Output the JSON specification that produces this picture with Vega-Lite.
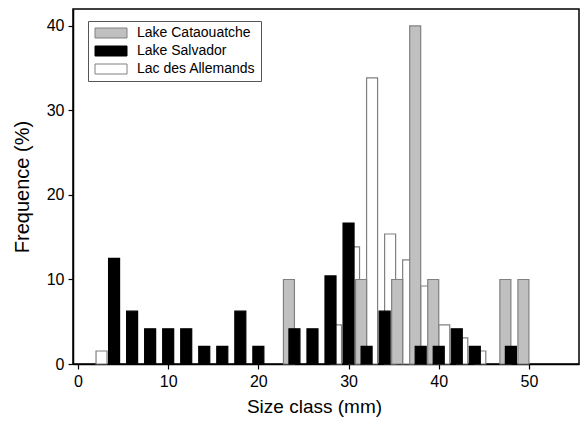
{
  "$schema": "https://vega.github.io/schema/vega-lite/v6.json",
  "width": 506,
  "height": 355,
  "autosize": "none",
  "padding": {"left": 73, "top": 9, "right": 4, "bottom": 58},
  "background": "white",
  "config": {
    "font": "Liberation Sans",
    "view": {"stroke": "black", "strokeWidth": 1.5},
    "axis": {
      "grid": false,
      "domainColor": "black",
      "domainWidth": 1.5,
      "tickColor": "black",
      "tickSize": 5,
      "tickWidth": 1.2,
      "labelFont": "Liberation Sans",
      "labelFontSize": 16,
      "labelColor": "black",
      "titleFont": "Liberation Sans",
      "titleFontWeight": "normal",
      "titleColor": "black"
    }
  },
  "datasets": {
    "bars": [
      {"lake": "Lac des Allemands", "size_class": 2, "freq": 1.54},
      {"lake": "Lac des Allemands", "size_class": 28, "freq": 4.62},
      {"lake": "Lac des Allemands", "size_class": 30, "freq": 13.85},
      {"lake": "Lac des Allemands", "size_class": 32, "freq": 33.85},
      {"lake": "Lac des Allemands", "size_class": 34, "freq": 15.38},
      {"lake": "Lac des Allemands", "size_class": 36, "freq": 12.31},
      {"lake": "Lac des Allemands", "size_class": 38, "freq": 9.23},
      {"lake": "Lac des Allemands", "size_class": 40, "freq": 4.62},
      {"lake": "Lac des Allemands", "size_class": 42, "freq": 3.08},
      {"lake": "Lac des Allemands", "size_class": 44, "freq": 1.54},
      {"lake": "Lake Cataouatche", "size_class": 24, "freq": 10},
      {"lake": "Lake Cataouatche", "size_class": 32, "freq": 10},
      {"lake": "Lake Cataouatche", "size_class": 36, "freq": 10},
      {"lake": "Lake Cataouatche", "size_class": 38, "freq": 40},
      {"lake": "Lake Cataouatche", "size_class": 40, "freq": 10},
      {"lake": "Lake Cataouatche", "size_class": 48, "freq": 10},
      {"lake": "Lake Cataouatche", "size_class": 50, "freq": 10},
      {"lake": "Lake Salvador", "size_class": 4, "freq": 12.5},
      {"lake": "Lake Salvador", "size_class": 6, "freq": 6.25},
      {"lake": "Lake Salvador", "size_class": 8, "freq": 4.17},
      {"lake": "Lake Salvador", "size_class": 10, "freq": 4.17},
      {"lake": "Lake Salvador", "size_class": 12, "freq": 4.17},
      {"lake": "Lake Salvador", "size_class": 14, "freq": 2.08},
      {"lake": "Lake Salvador", "size_class": 16, "freq": 2.08},
      {"lake": "Lake Salvador", "size_class": 18, "freq": 6.25},
      {"lake": "Lake Salvador", "size_class": 20, "freq": 2.08},
      {"lake": "Lake Salvador", "size_class": 24, "freq": 4.17},
      {"lake": "Lake Salvador", "size_class": 26, "freq": 4.17},
      {"lake": "Lake Salvador", "size_class": 28, "freq": 10.42},
      {"lake": "Lake Salvador", "size_class": 30, "freq": 16.67},
      {"lake": "Lake Salvador", "size_class": 32, "freq": 2.08},
      {"lake": "Lake Salvador", "size_class": 34, "freq": 6.25},
      {"lake": "Lake Salvador", "size_class": 38, "freq": 2.08},
      {"lake": "Lake Salvador", "size_class": 40, "freq": 2.08},
      {"lake": "Lake Salvador", "size_class": 42, "freq": 4.17},
      {"lake": "Lake Salvador", "size_class": 44, "freq": 2.08},
      {"lake": "Lake Salvador", "size_class": 48, "freq": 2.08}
    ]
  },
  "data": {"name": "bars"},
  "encoding": {
    "x": {
      "field": "size_class",
      "type": "quantitative",
      "scale": {"domain": [0, 55], "nice": false, "zero": false},
      "axis": {"values": [0, 10, 20, 30, 40, 50], "title": "Size class (mm)", "titleFontSize": 19, "titlePadding": 8, "labelPadding": 4, "titleX": 241}
    },
    "y": {
      "field": "freq",
      "type": "quantitative",
      "scale": {"domain": [0, 42], "nice": false},
      "axis": {"values": [0, 10, 20, 30, 40], "title": "Frequence (%)", "titleFontSize": 20, "titlePadding": 14, "labelPadding": 4}
    },
    "color": {
      "field": "lake",
      "type": "nominal",
      "scale": {"domain": ["Lake Cataouatche", "Lake Salvador", "Lac des Allemands"], "range": ["#c0c0c0", "#000000", "#ffffff"]},
      "legend": {
        "title": null,
        "orient": "none",
        "legendX": 15,
        "legendY": 12,
        "direction": "vertical",
        "symbolType": "M-3.2,-1L3.2,-1L3.2,1L-3.2,1Z",
        "symbolSize": 100,
        "symbolStrokeWidth": 1,
        "symbolOpacity": 1,
        "symbolOffset": 11,
        "labelFont": "Liberation Sans",
        "labelFontSize": 14,
        "labelColor": "black",
        "labelOffset": 19,
        "rowPadding": 4,
        "padding": 5,
        "strokeColor": "#555555",
        "fillColor": "white"
      }
    },
    "stroke": {
      "field": "lake",
      "type": "nominal",
      "scale": {"domain": ["Lake Cataouatche", "Lake Salvador", "Lac des Allemands"], "range": ["#808080", "#000000", "#808080"]},
      "legend": null
    }
  },
  "layer": [
    {
      "transform": [{"filter": "datum.lake === 'Lac des Allemands'"}],
      "mark": {"type": "bar", "width": 11, "xOffset": 5.5, "strokeWidth": 1.2, "fillOpacity": 1}
    },
    {
      "transform": [{"filter": "datum.lake === 'Lake Cataouatche'"}],
      "mark": {"type": "bar", "width": 11, "xOffset": -5.5, "strokeWidth": 1.2, "fillOpacity": 1}
    },
    {
      "transform": [{"filter": "datum.lake === 'Lake Salvador'"}],
      "mark": {"type": "bar", "width": 11, "xOffset": 0, "strokeWidth": 1.2, "fillOpacity": 1}
    }
  ]
}
